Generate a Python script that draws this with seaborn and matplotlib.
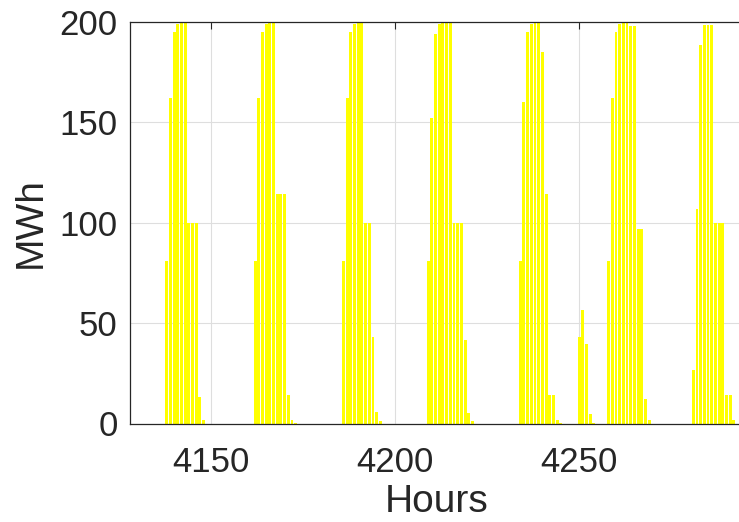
import matplotlib

matplotlib.use("Agg")
import matplotlib.pyplot as plt
import seaborn as sns

# hourly generation (MWh), only the hours with output; all other hours are zero
hours = [
    4138, 4139, 4140, 4141, 4142, 4143, 4144, 4145, 4146, 4147, 4148,
    4162, 4163, 4164, 4165, 4166, 4167, 4168, 4169, 4170, 4171, 4172, 4173,
    4186, 4187, 4188, 4189, 4190, 4191, 4192, 4193, 4194, 4195, 4196,
    4209, 4210, 4211, 4212, 4213, 4214, 4215, 4216, 4217, 4218, 4219, 4220, 4221,
    4234, 4235, 4236, 4237, 4238, 4239, 4240, 4241, 4242, 4243, 4244, 4245,
    4250, 4251, 4252, 4253, 4254,
    4258, 4259, 4260, 4261, 4262, 4263, 4264, 4265, 4266, 4267, 4268, 4269,
    4281, 4282, 4283, 4284, 4285, 4286, 4287, 4288, 4289, 4290, 4291, 4292,
]
mwh = [
    81, 162, 195, 199, 200, 200, 100, 100, 100, 13, 1.5,
    81, 162, 195, 199, 200, 200, 114, 114, 114, 14, 1.5, 0.4,
    81, 162, 195, 199, 200, 200, 100, 100, 43, 5.5, 1,
    81, 152, 194, 199, 200, 200, 200, 100, 100, 100, 41.5, 5, 1,
    81, 160, 195, 199, 200, 200, 185, 114, 14, 14, 1.5, 0.4,
    43, 56.5, 39.5, 4.6, 0.4,
    81, 162, 195, 199, 200, 200, 198, 198, 97, 97, 12, 1.5,
    26.5, 107, 188.5, 198.5, 198.5, 198.5, 100, 100, 100, 14, 14, 1.5,
]
x_ticks = [4150, 4200, 4250]
y_ticks = [0, 50, 100, 150, 200]

sns.set_style("white")
plt.rcParams["font.family"] = ["Liberation Sans", "DejaVu Sans"]

dark = "#262626"
fig = plt.figure(figsize=(7.39, 5.22), dpi=100)
# axes run a little past the right edge of the canvas, as in the reference
ax = fig.add_axes([130 / 739, 98.5 / 522, 613 / 739, 401.8 / 522])

sns.barplot(
    x=hours, y=mwh, native_scale=True, width=0.8, color="#ffff00",
    saturation=1, errorbar=None, linewidth=0, edgecolor="none", ax=ax,
)

ax.set_xlim(4128, 4294.5)
ax.set_ylim(0, 200)
ax.set_xticks(x_ticks)
ax.set_yticks(y_ticks)
ax.set_axisbelow(True)
ax.grid(True, color="#dedede", linewidth=0.8)
ax.tick_params(direction="in", length=5, width=0.8, colors=dark,
               labelsize=25, top=True, right=False)
ax.tick_params(axis="y", pad=9)
ax.tick_params(axis="x", pad=16)
for s in ax.spines.values():
    s.set_color(dark)
    s.set_linewidth(0.9)
ax.set_xlabel("Hours", fontsize=28, color=dark, labelpad=4)
ax.set_ylabel("MWh", fontsize=28, color=dark, labelpad=8)

fig.savefig("out.png", dpi=100)
